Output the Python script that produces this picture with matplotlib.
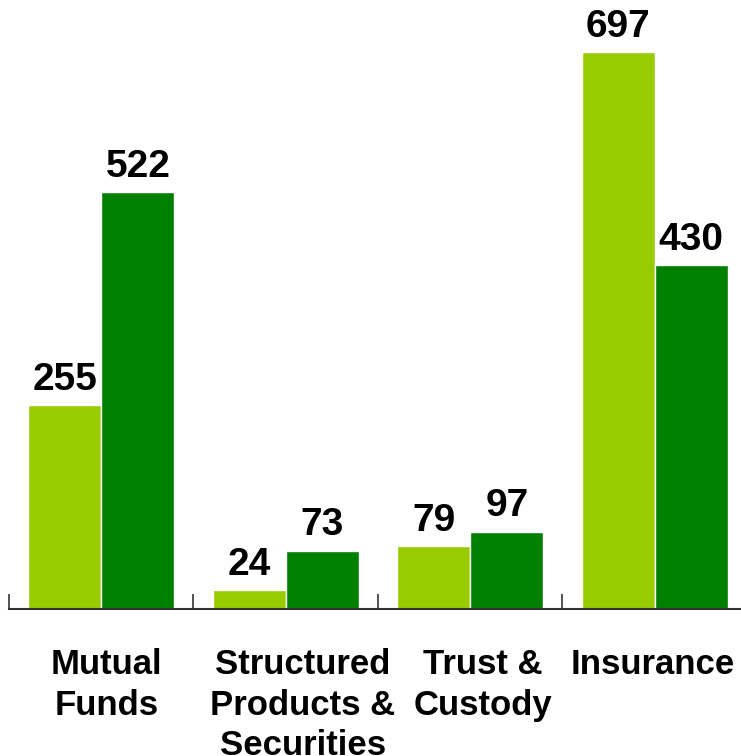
import numpy as np
import matplotlib.pyplot as plt

plt.rcParams['font.family'] = ['Liberation Sans', 'DejaVu Sans']

categories = ['Mutual\nFunds', 'Structured\nProducts &\nSecurities', 'Trust &\nCustody', 'Insurance']
series_a = [255, 24, 79, 697]
series_b = [522, 73, 97, 430]

fig = plt.figure(figsize=(7.41, 7.56), dpi=100)
# axes runs from the first tick (x=9px) to one category past the right edge
ax = fig.add_axes([9 / 741, 147 / 756, 738 / 741, 600 / 756])

x = np.arange(len(categories))
w = 0.397
ax.bar(x - w / 2, series_a, w, color='#99CC00', edgecolor='white', linewidth=1)
ax.bar(x + w / 2, series_b, w, color='#008000', edgecolor='white', linewidth=1)

for i in range(len(categories)):
    ax.text(x[i] - w / 2, series_a[i] + 9, str(series_a[i]), ha='center', va='bottom',
            fontsize=28, fontweight='bold')
    ax.text(x[i] + w / 2, series_b[i] + 9, str(series_b[i]), ha='center', va='bottom',
            fontsize=28, fontweight='bold')

ax.set_xlim(-0.5, len(categories) - 0.5)
ax.set_ylim(0, 751)

ax.set_xticks(np.arange(len(categories) + 1) - 0.5)
ax.set_xticklabels([])
ax.tick_params(axis='x', direction='in', length=11, width=1.2, color='#333333')

# category labels sit a little off the group centres in the original
label_shift = [0.027, 0.092, 0.07, -0.01]
ax.set_xticks(x + np.array(label_shift), minor=True)
ax.set_xticklabels(categories, minor=True, fontsize=25, fontweight='bold', linespacing=1.3, va='top')
ax.tick_params(axis='x', which='minor', length=0, pad=28)
ax.set_yticks([])

for s in ['top', 'right', 'left']:
    ax.spines[s].set_visible(False)
ax.spines['bottom'].set_linewidth(1.5)
ax.spines['bottom'].set_color('#333333')

plt.savefig('out.png', dpi=100)
